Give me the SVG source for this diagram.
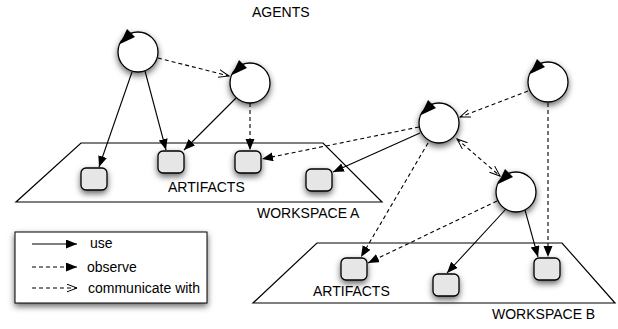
<svg xmlns="http://www.w3.org/2000/svg" xmlns:xlink="http://www.w3.org/1999/xlink" width="618" height="329" viewBox="0 0 618 329">
<defs>
<filter id="shadow" x="-50%" y="-50%" width="200%" height="200%">
<feDropShadow dx="0" dy="3" stdDeviation="3" flood-color="#000" flood-opacity="0.6"/>
</filter>
<marker id="filled" markerUnits="userSpaceOnUse" markerWidth="12" markerHeight="10" refX="11" refY="4.5" orient="auto">
<path d="M0,0 L11,4.5 L0,9 z" fill="#000"/>
</marker>
<marker id="open" markerUnits="userSpaceOnUse" markerWidth="12" markerHeight="10" refX="10.5" refY="4.5" orient="auto-start-reverse">
<path d="M0,0.5 L10.5,4.5 L0,8.5" fill="none" stroke="#000" stroke-width="1"/>
</marker>
<g id="agentShape">
<circle cx="0" cy="0" r="20" fill="#fff" stroke="#000" stroke-width="1.3"/>
<polygon points="-11,-23 -3,-15 -18,-8" fill="#000"/>
</g>
</defs>
<style>
text { font-family: "Liberation Sans", Arial, Helvetica, sans-serif; font-size: 14px; fill: #000; }
.ws { fill: #fff; stroke: #000; stroke-width: 1.2; }
.art { fill: #e6e6e6; stroke: #000; stroke-width: 1.3; filter: url(#shadow); }
.agent { filter: url(#shadow); }
.use { fill: none; stroke: #000; stroke-width: 1.1; marker-end: url(#filled); }
.obs { fill: none; stroke: #000; stroke-width: 1.1; stroke-dasharray: 4,3; marker-end: url(#filled); }
.com { fill: none; stroke: #000; stroke-width: 1.1; stroke-dasharray: 4,3; marker-end: url(#open); }
.comboth { fill: none; stroke: #000; stroke-width: 1.1; stroke-dasharray: 4,3; marker-start: url(#open); marker-end: url(#open); }
</style>

<text x="252" y="17">AGENTS</text>

<g id="workspaceA">
<polygon class="ws" points="81,143 323,143 382,202 16,202"/>
<text x="168" y="191.5">ARTIFACTS</text>
<text x="257" y="218">WORKSPACE A</text>
</g>

<g id="workspaceB">
<polygon class="ws" points="317,243 562,243 615,303 253,303"/>
<text x="313" y="296">ARTIFACTS</text>
<text x="492" y="319">WORKSPACE B</text>
</g>

<g id="artifactA1"><rect class="art" x="81" y="168" width="26" height="22" rx="5"/></g>
<g id="artifactA2"><rect class="art" x="158" y="151" width="26" height="22" rx="5"/></g>
<g id="artifactA3"><rect class="art" x="235" y="151" width="26" height="22" rx="5"/></g>
<g id="artifactA4"><rect class="art" x="306" y="169" width="26" height="22" rx="5"/></g>
<g id="artifactB1"><rect class="art" x="341" y="258" width="26" height="22" rx="5"/></g>
<g id="artifactB2"><rect class="art" x="433" y="274" width="26" height="22" rx="5"/></g>
<g id="artifactB3"><rect class="art" x="534" y="258" width="26" height="22" rx="5"/></g>

<g id="connectors">
<path class="use" d="M132,72 L99,167"/>
<path class="use" d="M145,71 L166,150"/>
<path class="use" d="M236,98 L184,150"/>
<path class="com" d="M158,58 L229,76"/>
<path class="obs" d="M250,103 L250,150"/>
<path class="obs" d="M419,127 L262,159"/>
<path class="use" d="M420,133 L333,172"/>
<path class="com" d="M528,91 L460,117"/>
<path class="comboth" d="M457,139 L500,176"/>
<path class="obs" d="M548,103 L548,257"/>
<path class="obs" d="M428,143 L361,257"/>
<path class="obs" d="M497,201 L368,263"/>
<path class="use" d="M506,209 L447,273"/>
<path class="use" d="M525,210 L538,257"/>
</g>

<g id="agent1" class="agent"><use xlink:href="#agentShape" transform="translate(138,52)"/></g>
<g id="agent2" class="agent"><use xlink:href="#agentShape" transform="translate(250,83)"/></g>
<g id="agent3" class="agent"><use xlink:href="#agentShape" transform="translate(548,82)"/></g>
<g id="agent4" class="agent"><use xlink:href="#agentShape" transform="translate(439,123)"/></g>
<g id="agent5" class="agent"><use xlink:href="#agentShape" transform="translate(516,192)"/></g>

<g id="legend">
<rect x="15" y="232" width="192" height="71" fill="#fff" stroke="#000" stroke-width="1" style="filter:url(#shadow)"/>
<path class="use" d="M32,244 L77,244"/>
<path class="obs" d="M32,267 L77,267"/>
<path class="com" d="M32,288 L77,288"/>
<text x="90" y="248">use</text>
<text x="87" y="272">observe</text>
<text x="88" y="293">communicate with</text>
</g>
</svg>
